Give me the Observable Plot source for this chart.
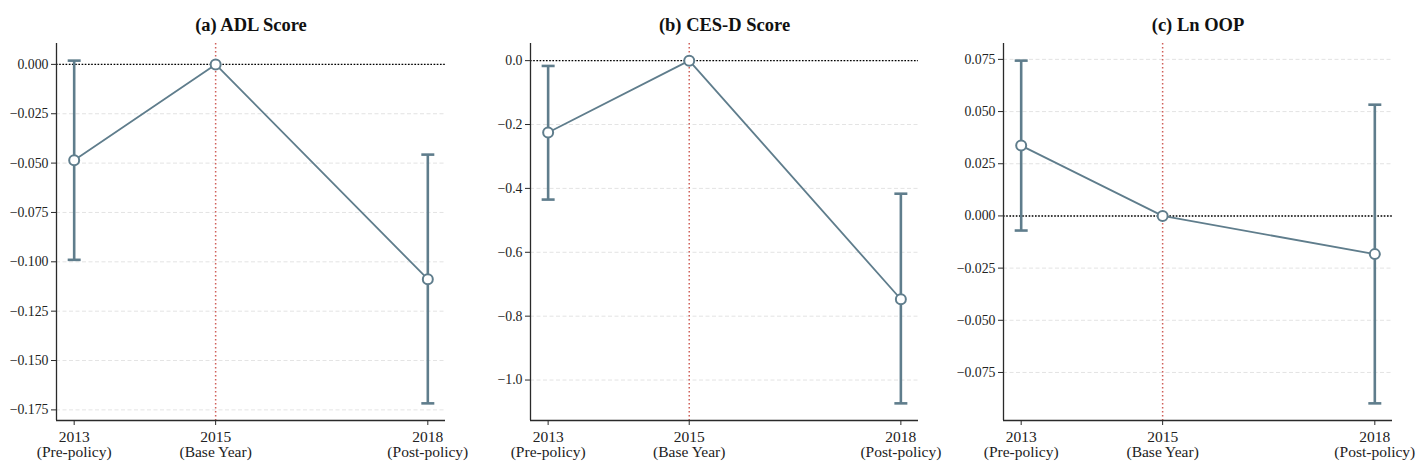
<!DOCTYPE html>
<html>
<head>
<meta charset="utf-8">
<script src="https://cdn.jsdelivr.net/npm/d3@7"></script>
<script src="https://cdn.jsdelivr.net/npm/@observablehq/plot@0.6"></script>
<style>
  html, body { margin: 0; padding: 0; background: white; }
  #wrap { position: relative; width: 1424px; height: 471px; overflow: hidden; background: white; }
  .panel { position: absolute; top: 0; }
  .panel svg { overflow: visible; }
  .panel svg, .panel svg text, .panel svg g { font-family: "Liberation Serif", "Times New Roman", serif !important; }
</style>
</head>
<body>
<div id="wrap"></div>
<script>
// ---- Data ----
const years = [2013, 2015, 2018];
const yearLabels = ["2013\n(Pre-policy)", "2015\n(Base Year)", "2018\n(Post-policy)"];
const baseYear = 2015;

const panelTitles = ["(a) ADL Score", "(b) CES-D Score", "(c) Ln OOP"];

const adlCoef = [-0.0486, 0, -0.1088];
const adlLow  = [-0.0990, 0, -0.1717];
const adlHigh = [0.0019, 0, -0.0457];

const cesCoef = [-0.225, 0, -0.747];
const cesLow  = [-0.435, 0, -1.073];
const cesHigh = [-0.0166, 0, -0.4166];

const oopCoef = [0.0337, 0, -0.0183];
const oopLow  = [-0.0070, 0, -0.0898];
const oopHigh = [0.0744, 0, 0.0533];

const adlTicks = [0, -0.025, -0.05, -0.075, -0.1, -0.125, -0.15, -0.175];
const cesTicks = [0, -0.2, -0.4, -0.6, -0.8, -1.0];
const oopTicks = [0.075, 0.05, 0.025, 0, -0.025, -0.05, -0.075];

// ---- Styling ----
const C = "#5f7d8c";
const SPINE = "#2a2a2a";
const FONT = "Liberation Serif";

const cap = {
  draw(context, size) {
    const w = Math.sqrt(size / Math.PI);
    context.moveTo(-w, 0);
    context.lineTo(w, 0);
  }
};

function panel({title, coef, low, high, yTicks, yFormat, width, marginLeft, marginRight}) {
  const data = years.map((year, i) => ({year, coef: coef[i], low: low[i], high: high[i]}));
  const bars = data.filter(d => d.low !== d.high);
  const vals = [...coef, ...low, ...high];
  const lo = d3.min(vals), hi = d3.max(vals), pad = (hi - lo) * 0.05;
  const xlo = d3.min(years), xhi = d3.max(years), xpad = (xhi - xlo) * 0.05;
  const xDomain = [xlo - xpad, xhi + xpad];
  const yDomain = [lo - pad, hi + pad];
  return Plot.plot({
    width, height: 471,
    marginTop: 43, marginBottom: 51, marginLeft, marginRight,
    style: {fontFamily: FONT, background: "white", color: "#222", overflow: "visible"},
    x: {domain: xDomain},
    y: {domain: yDomain},
    marks: [
      Plot.gridY(yTicks, {stroke: "#dcdcdc", strokeOpacity: 1, strokeDasharray: "4,2.5", strokeWidth: 0.8}),
      Plot.ruleY([0], {stroke: "#000", strokeDasharray: "1.6,1.6", strokeWidth: 1.4}),
      Plot.ruleX([baseYear], {stroke: "#cf5f58", strokeDasharray: "1.5,2.5", strokeWidth: 1.5}),
      Plot.ruleX(bars, {x: "year", y1: "low", y2: "high", stroke: C, strokeWidth: 2.6}),
      Plot.dot(bars, {x: "year", y: "low", symbol: cap, r: 6.5, fill: "none", stroke: C, strokeWidth: 2.6}),
      Plot.dot(bars, {x: "year", y: "high", symbol: cap, r: 6.5, fill: "none", stroke: C, strokeWidth: 2.6}),
      Plot.line(data, {x: "year", y: "coef", stroke: C, strokeWidth: 1.8}),
      Plot.dot(data, {x: "year", y: "coef", r: 5, fill: "white", stroke: C, strokeWidth: 2}),
      Plot.ruleX([xDomain[0]], {stroke: SPINE, strokeWidth: 1.3}),
      Plot.ruleY([yDomain[0]], {stroke: SPINE, strokeWidth: 1.3}),
      Plot.axisY(yTicks, {tickFormat: yFormat, tickSize: 5, tickPadding: 3, fontSize: 13.8, label: null, stroke: SPINE, fill: "#222"}),
      Plot.axisX(years, {tickFormat: d => yearLabels[years.indexOf(d)], tickSize: 5, tickPadding: 5, fontSize: 15.5, lineHeight: 1, label: null, stroke: SPINE, fill: "#222"}),
      Plot.text([title], {text: d => d, frameAnchor: "top", dy: -26, fontSize: 18.5, fontWeight: "bold", fill: "#111"})
    ]
  });
}

const specs = [
  {left: 0, width: 474, marginLeft: 56, marginRight: 29,
   title: panelTitles[0], coef: adlCoef, low: adlLow, high: adlHigh, yTicks: adlTicks, yFormat: d3.format(".3f")},
  {left: 474, width: 474, marginLeft: 56, marginRight: 30,
   title: panelTitles[1], coef: cesCoef, low: cesLow, high: cesHigh, yTicks: cesTicks, yFormat: d3.format(".1f")},
  {left: 948, width: 476, marginLeft: 55, marginRight: 32,
   title: panelTitles[2], coef: oopCoef, low: oopLow, high: oopHigh, yTicks: oopTicks, yFormat: d3.format(".3f")}
];

const wrap = document.getElementById("wrap");
for (const s of specs) {
  const div = document.createElement("div");
  div.className = "panel";
  div.style.left = s.left + "px";
  div.appendChild(panel(s));
  wrap.appendChild(div);
}
</script>
</body>
</html>
